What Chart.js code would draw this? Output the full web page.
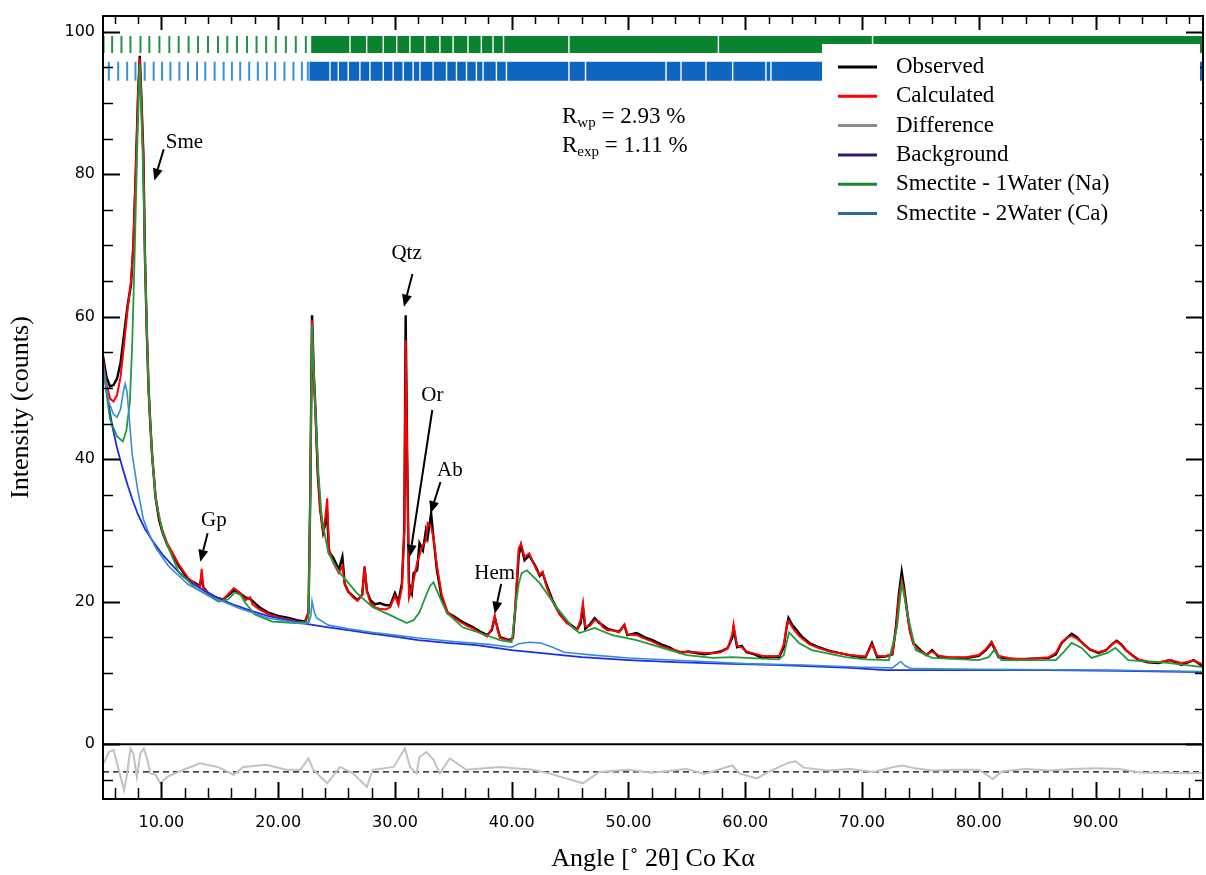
<!DOCTYPE html>
<html>
<head>
<meta charset="utf-8">
<title>XRD Rietveld fit</title>
<script src="https://cdn.jsdelivr.net/npm/chart.js@4.4.1/dist/chart.umd.min.js"></script>
<style>
  html, body { margin: 0; padding: 0; background: #fff; }
</style>
</head>
<body>
<canvas id="xrdChart" width="1206" height="875"></canvas>
<script>
//------------------------------------------------------------//
//--------------------DATA-------------//
//------------------------------------------------------------//

// angle grid shared by observed and calculated
var angle = [
	5.0, 5.3, 5.6, 5.9, 6.2, 6.5, 6.8, 7.1, 7.4, 7.6,
	7.8, 8.0, 8.15, 8.3, 8.45, 8.6, 8.75, 8.9, 9.05, 9.2,
	9.5, 9.8, 10.1, 10.5, 10.9, 11.5, 12.3, 12.9, 13.3, 13.45,
	13.6, 14.0, 14.6, 15.3, 15.8, 16.2, 16.7, 17.2, 17.6, 17.8,
	18.4, 19.1, 20.0, 20.9, 21.6, 22.3, 22.6, 22.75, 22.9, 23.05,
	23.2, 23.4, 23.6, 23.85, 24.05, 24.2, 24.35, 24.7, 25.2, 25.5,
	25.7, 26.0, 26.4, 26.8, 27.2, 27.4, 27.6, 27.9, 28.3, 28.7,
	29.2, 29.6, 30.0, 30.3, 30.6, 30.8, 30.92, 31.05, 31.2, 31.45,
	31.6, 31.9, 32.1, 32.4, 32.65, 32.8, 33.1, 33.3, 33.6, 34.0,
	34.5, 35.0, 35.55, 36.2, 36.7, 37.3, 37.9, 38.3, 38.55, 38.8,
	39.0, 39.8, 40.1, 40.3, 40.6, 40.8, 41.1, 41.5, 42.1, 42.4,
	42.65, 43.0, 43.5, 44.1, 44.7, 45.6, 45.9, 46.1, 46.3, 46.7,
	47.1, 47.5, 47.8, 48.2, 48.6, 49.2, 49.65, 49.9, 50.7, 51.4,
	52.05, 52.8, 53.5, 54.4, 55.1, 55.8, 56.5, 57.2, 57.9, 58.5,
	58.9, 59.0, 59.3, 59.7, 60.1, 60.8, 61.45, 62.2, 62.9, 63.3,
	63.55, 63.7, 64.0, 64.2, 64.6, 64.9, 65.5, 66.3, 67.2, 68.0,
	68.9, 69.6, 70.3, 70.85, 71.3, 72.0, 72.6, 72.9, 73.15, 73.4,
	73.6, 73.85, 74.1, 74.4, 75.0, 75.5, 76.0, 76.6, 77.5, 78.9,
	80.0, 80.6, 81.1, 81.7, 82.5, 83.2, 84.5, 86.0, 86.6, 87.1,
	87.6, 87.95, 88.4, 88.8, 89.5, 90.25, 90.9, 91.4, 91.8, 92.2,
	92.6, 93.2, 93.7, 94.5, 95.4, 96.4, 97.35, 98.4, 99.2
];

var observed = [
	54.5, 51.5, 50.2, 50.4, 51.3, 53.5, 57.5, 61.5, 64.5, 70,
	80, 91, 96.6, 90, 83, 68, 58, 50, 45, 40.7,
	34.6, 31.5, 29.7, 28, 26.8, 25, 23.1, 22.6, 22.2, 23.6,
	22.0, 21.2, 20.6, 20.3, 21.0, 21.6, 21.2, 20.6, 20.4, 20.1,
	19.2, 18.5, 18.0, 17.7, 17.4, 17.2, 18.5, 35, 60.2, 52,
	46.8, 37.7, 33, 29.7, 31, 32.2, 27, 26.2, 24.5, 26.3,
	22.5, 21.4, 20.8, 20.2, 21.0, 24.8, 21.5, 20.2, 19.6, 19.8,
	19.5, 19.5, 21.2, 20.0, 22.6, 30, 60.2, 40, 22.6, 21.2,
	24, 24.4, 28.2, 27.2, 30, 29, 32.4, 29, 24.4, 20.6,
	18.4, 18.0, 17.4, 16.8, 16.4, 15.8, 15.3, 16.0, 17.8, 16.2,
	15.0, 14.6, 14.9, 18.8, 26.5, 27.9, 25.8, 26.5, 24.8, 23.6,
	24, 22.3, 20.2, 18.3, 17.2, 16.1, 17.0, 19.2, 16.2, 16.8,
	17.7, 17.0, 16.7, 16.2, 16.0, 15.8, 16.7, 15.3, 15.6, 15.0,
	14.6, 14.0, 13.6, 12.8, 13.0, 12.8, 12.6, 12.8, 13.0, 13.5,
	15.0, 16.3, 13.6, 13.8, 12.9, 12.6, 12.1, 12.3, 12.2, 13.6,
	16.5, 17.7, 16.8, 16.4, 15.6, 15.0, 14.2, 13.6, 13.1, 12.8,
	12.5, 12.3, 12.2, 14.2, 12.2, 12.3, 12.6, 16.4, 21, 24.2,
	22, 18.8, 16, 14.2, 13.2, 12.5, 13.2, 12.2, 12.1, 12.1,
	12.4, 13.2, 14.2, 12.2, 12.0, 11.8, 12.0, 12.1, 12.6, 14.2,
	15.0, 15.5, 15.0, 14.3, 13.3, 12.8, 13.2, 14.0, 14.5, 14.0,
	13.2, 12.4, 11.8, 11.5, 11.4, 11.8, 11.1, 11.8, 10.9
];

var calculated = [
	54, 50.5, 48.5, 48.1, 49.0, 51.5, 56, 61, 65, 70,
	80, 91, 96.3, 90, 83, 68, 58, 50, 45, 40.7,
	34.8, 31.8, 30, 28.2, 27, 25.2, 23.3, 22.5, 22.0, 24.6,
	21.8, 21.2, 20.5, 20.3, 21.2, 21.9, 21.3, 20.2, 20.6, 19.6,
	18.9, 18.3, 17.8, 17.5, 17.2, 17.0, 18.5, 35, 59.5, 52,
	46, 38, 33, 30, 32, 34.5, 27.5, 25.5, 24.0, 25.0,
	22.5, 21.5, 20.6, 20.1, 21.0, 25.0, 21.5, 19.8, 19.2, 19.0,
	18.9, 19.2, 20.8, 19.5, 22, 30, 56.7, 40, 20.5, 21.8,
	23, 25.5, 26.5, 28, 28.5, 31, 30.5, 29, 25, 21,
	18.6, 17.8, 17.2, 16.6, 16.2, 15.6, 15.1, 16.2, 18.0, 16.0,
	14.9, 14.5, 14.9, 19, 27.5, 28.1, 26.3, 26.8, 24.5, 23.8,
	24.2, 22.0, 20.0, 18.2, 17.0, 16.0, 17.5, 19.8, 16.5, 16.6,
	17.4, 17.2, 16.4, 16.0, 16.0, 15.7, 16.8, 15.4, 15.3, 14.8,
	14.4, 13.8, 13.4, 13.0, 12.9, 12.9, 12.8, 12.8, 12.9, 13.4,
	15.5, 16.8, 13.8, 13.6, 13.0, 12.7, 12.4, 12.3, 12.4, 14.0,
	16.5, 17.3, 16.5, 16.0, 15.2, 14.8, 14.0, 13.5, 13.0, 12.8,
	12.5, 12.4, 12.3, 14.0, 12.4, 12.3, 12.7, 16.0, 20.5, 23.0,
	21.5, 18.5, 15.8, 14.0, 13.0, 12.6, 13.0, 12.4, 12.2, 12.2,
	12.5, 13.3, 14.4, 12.4, 12.1, 12.0, 12.0, 12.2, 12.8, 14.3,
	15.0, 15.2, 14.8, 14.3, 13.3, 12.9, 13.2, 14.0, 14.4, 13.9,
	13.2, 12.4, 11.9, 11.6, 11.5, 11.8, 11.4, 11.7, 11.2
];

var diffAngle = [
	5.07, 5.5, 5.9, 6.35, 6.8, 7.07, 7.35, 7.6, 7.9, 8.2,
	8.5, 8.8, 9.06, 9.5, 9.9, 10.5, 11.9, 13.3, 14.8, 16.2,
	17.0, 19.0, 20.7, 21.9, 22.6, 23.0, 24.2, 25.3, 26.4, 27.6,
	28.1, 29.9, 30.4, 30.85, 31.3, 31.85, 32.1, 32.7, 33.3, 33.85,
	34.7, 36.1, 39.0, 41.8, 43.2, 46.1, 47.5, 50.0, 52.0, 55.0,
	56.5, 58.9, 59.5, 61.0, 62.0, 63.7, 64.3, 65.0, 67.0, 69.0,
	71.0, 72.7, 73.5, 74.5, 76.0, 78.0, 80.0, 81.2, 82.0, 84.0,
	86.0, 88.0, 90.0, 92.0, 94.0, 96.0, 98.0, 99.2
];
var difference = [
	-2.7, -1.1, -0.8, -3.6, -6.5, -4.1, -0.6, -1.3, -4.6, -1.3,
	-0.6, -2.2, -4.1, -4.3, -5.5, -4.6, -3.6, -2.7, -3.2, -4.3,
	-3.2, -2.9, -3.6, -3.6, -2.0, -3.6, -5.5, -3.2, -4.1, -6.0,
	-3.6, -3.2, -1.8, -0.6, -3.2, -4.1, -1.8, -1.1, -2.2, -4.1,
	-2.0, -3.6, -3.2, -3.6, -4.1, -5.5, -3.9, -3.6, -4.0, -3.5,
	-4.2, -3.0, -4.1, -4.8, -3.9, -2.6, -2.4, -3.3, -3.7, -3.5,
	-3.9, -3.2, -3.0, -3.4, -3.7, -3.6, -3.6, -4.9, -3.8, -3.5,
	-3.7, -3.5, -3.4, -3.5, -4.0, -4.0, -4.1, -4.0
];
var diffZero = -3.9;

var bgAngle = [
	5.0, 5.4, 5.8, 6.2, 6.7, 7.1, 7.5, 8.0, 8.6, 9.3,
	10.1, 11.0, 11.8, 12.8, 13.8, 15.0, 16.3, 17.7, 19.1, 20.5,
	22.0, 24.3, 26.0, 28.0, 30.0, 32.0, 34.5, 37.0, 40.0, 43.0,
	46.0, 50.0, 54.0, 58.0, 63.0, 69.0, 72.0, 80.0, 86.0, 92.0,
	99.2
];
var background = [
	53.4, 48.6, 44.6, 41.6, 38.6, 36.4, 34.4, 32.2, 30.2, 28.4,
	26.6, 25.0, 23.6, 22.4, 21.4, 20.4, 19.5, 18.7, 18.0, 17.5,
	17.0, 16.4, 16.0, 15.5, 15.1, 14.6, 14.2, 13.9, 13.2, 12.7,
	12.2, 11.8, 11.5, 11.3, 11.1, 10.7, 10.4, 10.4, 10.4, 10.3,
	10.1
];

var smeNaAngle = [
	5.0, 5.6, 6.2, 6.7, 7.0, 7.3, 7.5, 7.7, 7.95, 8.15,
	8.45, 8.6, 8.9, 9.2, 9.5, 10.1, 10.8, 11.45, 12.9, 14.9,
	15.7, 16.3, 16.8, 17.2, 18.0, 19.5, 21.45, 22.6, 22.75, 22.9,
	23.05, 23.2, 23.45, 23.75, 24.3, 25.3, 26.75, 28.1, 29.6, 31.0,
	31.6, 32.1, 32.5, 33.0, 33.3, 33.85, 34.45, 35.8, 37.3, 39.0,
	40.0, 40.3, 40.6, 40.85, 41.3, 42.4, 43.85, 45.2, 45.8, 47.1,
	48.6, 50.7, 52.9, 55.0, 57.2, 58.9, 60.1, 62.9, 63.3, 63.75,
	64.6, 65.7, 68.6, 70.3, 72.3, 73.0, 73.4, 74.0, 74.6, 76.0,
	80.0, 80.85, 81.3, 81.95, 86.6, 87.3, 87.95, 88.8, 89.65, 91.0,
	91.7, 92.8, 96.2, 99.2
];
var smeNa = [
	52.9, 45.6, 43.2, 42.5, 44.0, 48, 56, 68, 85, 95.5,
	80, 68, 49.8, 40.7, 34.6, 29.7, 26.8, 24.3, 21.9, 20.0,
	20.3, 21.3, 20.9, 19.8, 18.2, 17.2, 17.0, 17.2, 35, 58.9,
	52, 46.8, 38, 31.5, 26.8, 24.0, 21.2, 19.2, 18.1, 17.0,
	17.4, 18.5, 20.2, 22.2, 22.7, 20.6, 18.4, 16.4, 15.6, 14.6,
	14.3, 18.8, 22.5, 24.0, 24.4, 22.6, 19.2, 16.4, 15.6, 16.3,
	15.3, 14.6, 13.5, 12.5, 12.1, 12.2, 12.1, 11.9, 12.5, 15.7,
	14.2, 13.2, 12.2, 11.9, 11.8, 16.4, 22.6, 17.4, 13.2, 12.1,
	11.8, 12.2, 13.2, 11.8, 11.8, 13.0, 14.2, 13.5, 12.1, 12.8,
	13.5, 11.8, 11.4, 10.8
];

var smeCaAngle = [
	5.0, 5.5, 5.9, 6.2, 6.5, 6.75, 6.9, 7.05, 7.2, 7.5,
	7.95, 8.45, 9.0, 9.5, 10.6, 12.3, 14.4, 16.6, 19.1, 21.0,
	22.0, 22.6, 22.8, 22.9, 23.1, 23.3, 24.3, 26.0, 28.0, 30.0,
	32.0, 35.0, 38.0, 40.0, 40.6, 41.5, 42.5, 43.5, 44.5, 47.0,
	50.0, 55.0, 60.0, 65.0, 70.0, 72.6, 73.0, 73.3, 73.7, 74.2,
	80.0, 90.0, 99.2
];
var smeCa = [
	53.4, 48.0, 46.3, 45.9, 47.0, 49.5, 50.6, 49.5, 46.8, 40.7,
	35.9, 31.6, 29.3, 27.6, 25.0, 22.4, 20.6, 19.1, 17.7, 17.2,
	16.9, 17.0, 18.0, 20.1, 18.5, 17.7, 16.7, 16.2, 15.7, 15.3,
	14.9, 14.4, 14.0, 13.6, 14.1, 14.3, 14.2, 13.6, 12.9, 12.5,
	12.1, 11.7, 11.3, 11.1, 10.8, 10.7, 11.2, 11.6, 11.0, 10.6,
	10.5, 10.4, 10.2
];

// reflection positions (tick rows at the top)
var smeNaTicks = [5.05, 5.78, 6.58, 7.35, 8.21, 8.97, 9.83, 10.68, 11.48, 12.33, 13.14,
	13.99, 14.85, 15.64, 16.47, 17.33, 18.15, 18.97, 19.8, 20.66, 21.51, 22.37];
var smeNaBandFrom = 22.83;
var smeNaGaps = [26.15, 27.58, 29.0, 30.15, 31.28, 32.56, 33.85, 34.98, 36.26, 37.4,
	38.4, 39.3, 44.9, 57.7, 70.9];

var smeCaTicks = [5.5, 6.3, 7.07, 7.78, 8.57, 9.34, 10.06, 10.77, 11.54, 12.28, 13.05,
	13.76, 14.56, 15.33, 16.04, 16.75, 17.52, 18.26, 19.03, 19.74, 20.54, 21.31, 22.03, 22.54];
var smeCaBandFrom = 22.68;
var smeCaGaps = [24.44, 25.15, 26.0, 27.0, 27.86, 29.0, 29.85, 30.71, 31.56, 32.14,
	33.27, 34.42, 35.27, 36.13, 36.98, 37.55, 38.69, 39.55, 44.9, 46.32,
	53.22, 54.5, 56.64, 58.92, 61.77, 62.2];
var tickRowNa = 98.2;
var tickRowCa = 94.45;

// axis label values
var xLabelValues = [10, 20, 30, 40, 50, 60, 70, 80, 90];
var yLabelValues = [0, 20, 40, 60, 80, 100];

// peak labels
var peakNames = ['Sme', 'Gp', 'Qtz', 'Or', 'Ab', 'Hem'];
var peakTextAngle = [11.97, 14.5, 31.0, 33.2, 34.7, 38.55];
var peakTextCounts = [84.5, 31.4, 68.8, 49.0, 38.4, 24.0];
var arrowTailAngle = [10.2, 13.96, 31.5, 33.2, 33.9, 39.1];
var arrowTailCounts = [83.5, 29.6, 66.0, 46.9, 36.8, 22.5];
var arrowTipAngle = [9.4, 13.33, 30.77, 31.28, 33.05, 38.55];
var arrowTipCounts = [79.1, 25.6, 61.4, 26.3, 32.4, 18.3];

var legendLabels = ['Observed', 'Calculated', 'Difference', 'Background',
	'Smectite - 1Water (Na)', 'Smectite - 2Water (Ca)'];
var legendColors = ['#000000', '#ff0000', '#8a8a8a', '#2b1c7c', '#1b8a2e', '#2a6b9c'];

//------------------------------------------------------------//
//--------------------HELPERS---------------------------------//
//------------------------------------------------------------//

function toPoints(xs, ys){
	var pts = [];
	var n = Math.min(xs.length, ys.length);
	for(var i=0;i<n;i++){
		pts.push({x: xs[i], y: ys[i]});
	}
	return pts;
}

// dense part of a reflection row: one thick segment broken at the gaps
function bandPoints(from, to, gaps, level){
	var pts = [];
	var start = from;
	var half = 0.06;
	for(var i=0;i<gaps.length;i++){
		pts.push({x: start, y: level});
		pts.push({x: gaps[i] - half, y: level});
		pts.push({x: gaps[i], y: null});
		start = gaps[i] + half;
	}
	pts.push({x: start, y: level});
	pts.push({x: to, y: level});
	return pts;
}

function tickPoints(xs, level){
	var pts = [];
	for(var i=0;i<xs.length;i++){
		pts.push({x: xs[i], y: level});
	}
	return pts;
}

function fixedTicks(values){
	return function(scale){
		scale.ticks = values.map(function(v){ return {value: v}; });
	};
}

function drawArrow(c, x1, y1, x2, y2){
	var ang = Math.atan2(y2 - y1, x2 - x1);
	var head = 12, wing = 5;
	var bx = x2 - Math.cos(ang) * head;
	var by = y2 - Math.sin(ang) * head;
	c.beginPath();
	c.moveTo(x1, y1);
	c.lineTo(bx, by);
	c.stroke();
	c.beginPath();
	c.moveTo(x2, y2);
	c.lineTo(bx + Math.sin(ang) * wing, by - Math.cos(ang) * wing);
	c.lineTo(bx - Math.sin(ang) * wing, by + Math.cos(ang) * wing);
	c.closePath();
	c.fill();
}

function drawSubText(c, x, y, main, sub, rest){
	c.font = '23px "Liberation Serif"';
	c.fillText(main, x, y);
	var w = c.measureText(main).width;
	c.font = '15px "Liberation Serif"';
	c.fillText(sub, x + w, y + 4);
	var w2 = c.measureText(sub).width;
	c.font = '23px "Liberation Serif"';
	c.fillText(rest, x + w + w2, y);
}

//------------------------------------------------------------//
//--------------------FRAME / TICKS / LEGEND------------------//
//------------------------------------------------------------//

var overlayPlugin = {
	id: 'overlay',
	afterDatasetsDraw: function(chart){
		var c = chart.ctx;
		var a = chart.chartArea;
		var xs = chart.scales.x;
		var ys = chart.scales.y;
		c.save();
		c.strokeStyle = '#000';
		c.fillStyle = '#000';

		// zero line of the difference curve
		c.lineWidth = 2;
		var y0 = ys.getPixelForValue(0);
		c.beginPath();
		c.moveTo(a.left, y0);
		c.lineTo(a.right, y0);
		c.stroke();

		// inward ticks, bottom and top
		for(var v=6; v<=98; v+=2){
			var px = Math.round(xs.getPixelForValue(v)) + 0.5;
			var big = (v % 10 === 0);
			c.lineWidth = big ? 2 : 1.5;
			c.beginPath();
			c.moveTo(px, a.bottom);
			c.lineTo(px, a.bottom - (big ? 17 : 11));
			c.moveTo(px, a.top);
			c.lineTo(px, a.top + (big ? 14 : 8));
			c.stroke();
		}
		// inward ticks, left and right
		for(var w=-5; w<=100; w+=5){
			var py = Math.round(ys.getPixelForValue(w)) + 0.5;
			var major = (w % 20 === 0);
			c.lineWidth = major ? 2 : 1.5;
			c.beginPath();
			c.moveTo(a.left, py);
			c.lineTo(a.left + (major ? 17 : 10), py);
			c.moveTo(a.right, py);
			c.lineTo(a.right - (major ? 17 : 8), py);
			c.stroke();
		}

		// frame
		c.lineWidth = 2;
		c.strokeRect(a.left, a.top, a.right - a.left, a.bottom - a.top);

		// peak labels + arrows
		c.font = '21px "Liberation Serif"';
		c.textAlign = 'center';
		c.textBaseline = 'middle';
		c.lineWidth = 2;
		for(var i=0;i<peakNames.length;i++){
			c.fillText(peakNames[i], xs.getPixelForValue(peakTextAngle[i]), ys.getPixelForValue(peakTextCounts[i]));
			drawArrow(c,
				xs.getPixelForValue(arrowTailAngle[i]), ys.getPixelForValue(arrowTailCounts[i]),
				xs.getPixelForValue(arrowTipAngle[i]), ys.getPixelForValue(arrowTipCounts[i]));
		}

		// agreement indices
		c.textAlign = 'left';
		c.textBaseline = 'alphabetic';
		drawSubText(c, 562, 123, 'R', 'wp', ' = 2.93 %');
		drawSubText(c, 562, 152, 'R', 'exp', ' = 1.11 %');

		// legend box over the reflection rows
		c.fillStyle = '#fff';
		c.fillRect(822, 44, 378, 193);
		c.font = '23px "Liberation Serif"';
		c.textBaseline = 'middle';
		for(var k=0;k<legendLabels.length;k++){
			var ly = 67 + k * 29.3;
			c.strokeStyle = legendColors[k];
			c.lineWidth = 3;
			c.beginPath();
			c.moveTo(838, ly);
			c.lineTo(877, ly);
			c.stroke();
			c.fillStyle = '#000';
			c.fillText(legendLabels[k], 896, ly);
		}
		c.restore();
	}
};

//------------------------------------------------------------//
//--------------------CHART-----------------------------------//
//------------------------------------------------------------//

var ctx = document.getElementById('xrdChart').getContext('2d');
var xrdChart = new Chart(ctx, {
	type: 'line',
	data: {
		datasets: [
			{ label: 'Smectite - 2Water (Ca)', data: toPoints(smeCaAngle, smeCa), borderColor: '#3a8bd6', borderWidth: 1.6, order: 1 },
			{ label: 'Smectite - 1Water (Na)', data: toPoints(smeNaAngle, smeNa), borderColor: '#1f9a3e', borderWidth: 1.8, order: 2 },
			{ label: 'Background', data: toPoints(bgAngle, background), borderColor: '#1c2ee6', borderWidth: 1.8, order: 3 },
			{ label: 'Difference', data: toPoints(diffAngle, difference), borderColor: '#c2c2c2', borderWidth: 2, order: 4 },
			{ label: 'Calculated', data: toPoints(angle, calculated), borderColor: '#ff0000', borderWidth: 2, order: 5 },
			{ label: 'Observed', data: toPoints(angle, observed), borderColor: '#000000', borderWidth: 2.4, order: 6 },
			{ label: 'zero', data: [{x: 5, y: diffZero}, {x: 99.2, y: diffZero}], borderColor: '#000', borderWidth: 1.3, borderDash: [6, 4], order: 7 },
			{ label: 'NaBand', data: bandPoints(smeNaBandFrom, 99.2, smeNaGaps, tickRowNa), borderColor: '#0a8330', borderWidth: 17, borderCapStyle: 'butt', spanGaps: false, order: 8 },
			{ label: 'CaBand', data: bandPoints(smeCaBandFrom, 99.2, smeCaGaps, tickRowCa), borderColor: '#0d67c0', borderWidth: 19, borderCapStyle: 'butt', spanGaps: false, order: 9 },
			{ type: 'scatter', label: 'NaTicks', data: tickPoints(smeNaTicks, tickRowNa), pointStyle: 'line', rotation: 90, pointRadius: 8.5, pointBorderWidth: 2, pointBorderColor: '#22924a', order: 10 },
			{ type: 'scatter', label: 'CaTicks', data: tickPoints(smeCaTicks, tickRowCa), pointStyle: 'line', rotation: 90, pointRadius: 9.5, pointBorderWidth: 2, pointBorderColor: '#3b8fd8', order: 11 }
		]
	},
	options: {
		responsive: false,
		animation: false,
		devicePixelRatio: 1,
		layout: { autoPadding: false, padding: { top: 16, right: 3, left: 0, bottom: 0 } },
		elements: { point: { radius: 0 }, line: { tension: 0, fill: false } },
		plugins: { legend: { display: false }, tooltip: { enabled: false } },
		scales: {
			x: {
				type: 'linear', min: 5, max: 99.2,
				afterBuildTicks: fixedTicks(xLabelValues),
				afterFit: function(s){ s.height = 76; s.paddingLeft = 0; s.paddingRight = 0; },
				grid: { display: false, drawTicks: false },
				border: { display: false },
				ticks: {
					autoSkip: false, maxRotation: 0, padding: 14, color: '#000',
					font: { family: 'DejaVu Sans', size: 16 },
					callback: function(v){ return v.toFixed(2); }
				},
				title: { display: true, text: 'Angle [˚ 2θ] Co Kα', color: '#000',
					font: { family: 'Liberation Serif', size: 26 }, padding: { top: 0, bottom: 0 } }
			},
			y: {
				min: -7.7, max: 102.2,
				afterBuildTicks: fixedTicks(yLabelValues),
				afterFit: function(s){ s.width = 103; s.paddingTop = 0; s.paddingBottom = 0; },
				grid: { display: false, drawTicks: false },
				border: { display: false },
				ticks: {
					autoSkip: false, padding: 8, color: '#000',
					font: { family: 'DejaVu Sans', size: 16 },
					callback: function(v){ return String(v); }
				},
				title: { display: true, text: 'Intensity (counts)', color: '#000',
					font: { family: 'Liberation Serif', size: 26 }, padding: { top: 6, bottom: 0 } }
			}
		}
	},
	plugins: [overlayPlugin]
});
</script>
</body>
</html>
